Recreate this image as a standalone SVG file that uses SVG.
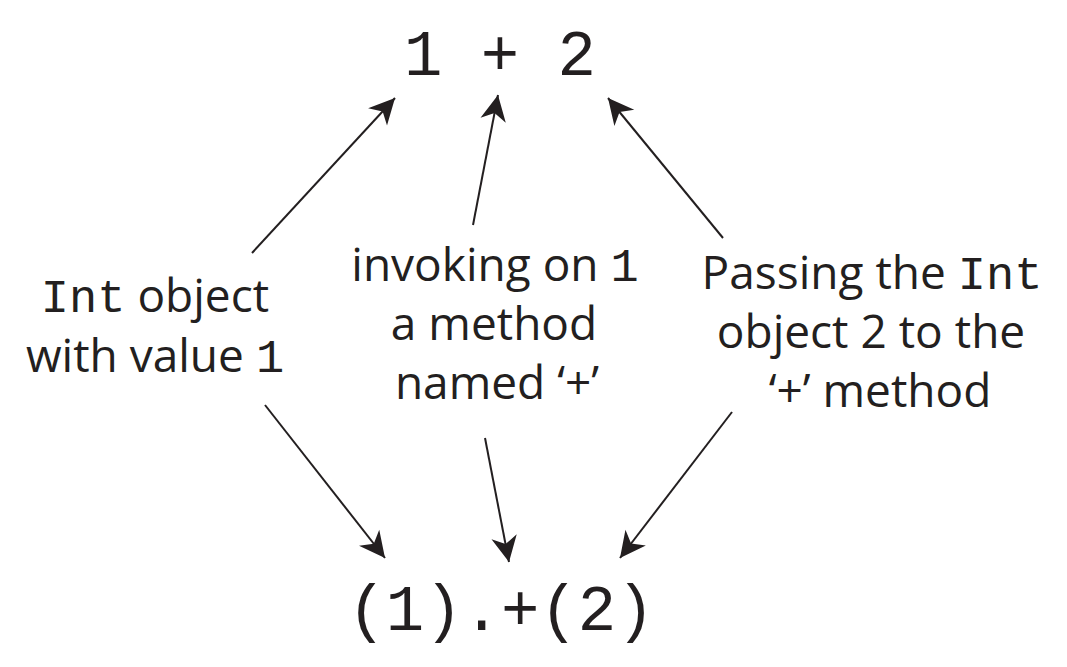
<svg xmlns="http://www.w3.org/2000/svg" width="1067" height="667" viewBox="0 0 1067 667">
<style>
.code{font-family:"Liberation Mono","DejaVu Sans Mono",monospace;fill:#231f20}
.big{font-size:64px}
.lbl{font-family:"Open Sans","Noto Sans","Liberation Sans",sans-serif;font-size:46px;fill:#231f20;text-anchor:middle}
.m{font-family:"Liberation Mono","DejaVu Sans Mono",monospace;font-size:47px}
.arr{stroke:#231f20;stroke-width:2;fill:none;marker-end:url(#ah)}
</style>
<defs>
<marker id="ah" markerUnits="userSpaceOnUse" markerWidth="30" markerHeight="30" viewBox="-26 -13 28 26" refX="0" refY="0" orient="auto">
<path d="M0,0 L-24,-12 L-17,0 L-24,12 Z" fill="#231f20"/>
</marker>
</defs>
<rect width="1067" height="667" fill="#ffffff"/>
<g id="top"><text class="code big" x="500" y="75" text-anchor="middle">1 + 2</text></g>
<g id="bottom"><text class="code big" x="501" y="630" text-anchor="middle">(1).+(2)</text></g>
<g id="left-label"><text class="lbl" x="155" y="312"><tspan class="m">Int</tspan> object</text><text class="lbl" x="155" y="372">with value <tspan class="m">1</tspan></text></g>
<g id="center-label"><text class="lbl" x="495" y="281">invoking on <tspan class="m">1</tspan></text><text class="lbl" x="494" y="340">a method</text><text class="lbl" x="497" y="399">named ‘+’</text></g>
<g id="right-label"><text class="lbl" x="872" y="289">Passing the <tspan class="m">Int</tspan></text><text class="lbl" x="871" y="348">object 2 to the</text><text class="lbl" x="880" y="407">‘+’ method</text></g>
<g id="connectors">
<line class="arr" x1="252" y1="253" x2="395" y2="98"/>
<line class="arr" x1="473" y1="225" x2="498" y2="95"/>
<line class="arr" x1="723" y1="238" x2="608" y2="98"/>
<line class="arr" x1="265" y1="405" x2="385" y2="558"/>
<line class="arr" x1="485" y1="438" x2="509" y2="562"/>
<line class="arr" x1="732" y1="412" x2="620" y2="558"/>
</g>
</svg>
